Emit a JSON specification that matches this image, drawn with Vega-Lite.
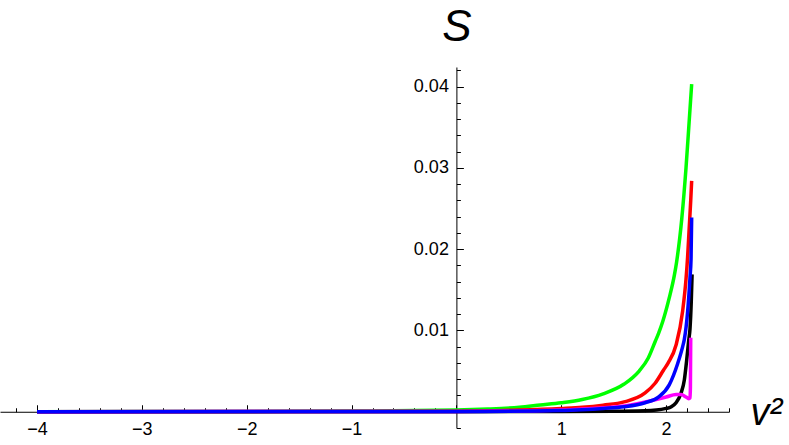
{
  "$schema": "https://vega.github.io/schema/vega-lite/v6.json",
  "width": 729,
  "height": 361,
  "autosize": {"type": "none"},
  "padding": {"left": 0, "top": 67, "right": 60, "bottom": 17},
  "background": "white",
  "config": {"view": {"stroke": null}},
  "data": {"values": [
    {"s": "a", "x": -4, "y": 0}, {"s": "a", "x": -3, "y": 0.00001}, {"s": "a", "x": -2, "y": 0.00003}, {"s": "a", "x": -1, "y": 0.00008}, {"s": "a", "x": 0, "y": 0.0002}, {"s": "a", "x": 0.3, "y": 0.00032}, {"s": "a", "x": 0.6, "y": 0.00054}, {"s": "a", "x": 0.8, "y": 0.00082}, {"s": "a", "x": 1.0, "y": 0.0011}, {"s": "a", "x": 1.2, "y": 0.0015}, {"s": "a", "x": 1.4, "y": 0.0022}, {"s": "a", "x": 1.6, "y": 0.0034}, {"s": "a", "x": 1.743, "y": 0.005}, {"s": "a", "x": 1.83, "y": 0.0066}, {"s": "a", "x": 1.895, "y": 0.0086}, {"s": "a", "x": 1.93, "y": 0.0097}, {"s": "a", "x": 1.968, "y": 0.0111}, {"s": "a", "x": 2.03, "y": 0.014}, {"s": "a", "x": 2.079, "y": 0.0168}, {"s": "a", "x": 2.1, "y": 0.0184}, {"s": "a", "x": 2.15, "y": 0.0238}, {"s": "a", "x": 2.19, "y": 0.0300}, {"s": "a", "x": 2.22, "y": 0.0357}, {"s": "a", "x": 2.244, "y": 0.0403},
    {"s": "b", "x": -4, "y": 0}, {"s": "b", "x": -2, "y": 0.00001}, {"s": "b", "x": 0, "y": 0.00005}, {"s": "b", "x": 0.6, "y": 0.0002}, {"s": "b", "x": 1.0, "y": 0.0004}, {"s": "b", "x": 1.2, "y": 0.00054}, {"s": "b", "x": 1.4, "y": 0.0008}, {"s": "b", "x": 1.6, "y": 0.0012}, {"s": "b", "x": 1.8, "y": 0.0023}, {"s": "b", "x": 1.895, "y": 0.0035}, {"s": "b", "x": 1.975, "y": 0.0051}, {"s": "b", "x": 2.02, "y": 0.006}, {"s": "b", "x": 2.095, "y": 0.0082}, {"s": "b", "x": 2.158, "y": 0.0124}, {"s": "b", "x": 2.19, "y": 0.0163}, {"s": "b", "x": 2.205, "y": 0.019}, {"s": "b", "x": 2.22, "y": 0.0225}, {"s": "b", "x": 2.235, "y": 0.026}, {"s": "b", "x": 2.244, "y": 0.0284},
    {"s": "c", "x": -4, "y": 0}, {"s": "c", "x": 0, "y": 0}, {"s": "c", "x": 1.5, "y": 0.00004}, {"s": "c", "x": 1.8, "y": 0.0001}, {"s": "c", "x": 2.0, "y": 0.0004}, {"s": "c", "x": 2.05, "y": 0.0006}, {"s": "c", "x": 2.095, "y": 0.0011}, {"s": "c", "x": 2.143, "y": 0.0023}, {"s": "c", "x": 2.174, "y": 0.0039}, {"s": "c", "x": 2.196, "y": 0.0063}, {"s": "c", "x": 2.216, "y": 0.0088}, {"s": "c", "x": 2.228, "y": 0.0102}, {"s": "c", "x": 2.24, "y": 0.0135}, {"s": "c", "x": 2.248, "y": 0.0169},
    {"s": "d", "x": -4, "y": 0}, {"s": "d", "x": 0, "y": 0.00002}, {"s": "d", "x": 1.0, "y": 0.0002}, {"s": "d", "x": 1.3, "y": 0.0004}, {"s": "d", "x": 1.6, "y": 0.0007}, {"s": "d", "x": 1.8, "y": 0.0012}, {"s": "d", "x": 2.0, "y": 0.0018}, {"s": "d", "x": 2.095, "y": 0.0021}, {"s": "d", "x": 2.143, "y": 0.0021}, {"s": "d", "x": 2.19, "y": 0.0018}, {"s": "d", "x": 2.216, "y": 0.0016}, {"s": "d", "x": 2.228, "y": 0.0017}, {"s": "d", "x": 2.232, "y": 0.003}, {"s": "d", "x": 2.235, "y": 0.0091},
    {"s": "e", "x": -4, "y": 0}, {"s": "e", "x": 0, "y": 0.00002}, {"s": "e", "x": 1.0, "y": 0.00015}, {"s": "e", "x": 1.2, "y": 0.00025}, {"s": "e", "x": 1.4, "y": 0.0004}, {"s": "e", "x": 1.6, "y": 0.0006}, {"s": "e", "x": 1.8, "y": 0.0011}, {"s": "e", "x": 1.927, "y": 0.0018}, {"s": "e", "x": 2.03, "y": 0.0033}, {"s": "e", "x": 2.11, "y": 0.0059}, {"s": "e", "x": 2.158, "y": 0.008}, {"s": "e", "x": 2.174, "y": 0.0089}, {"s": "e", "x": 2.206, "y": 0.0124}, {"s": "e", "x": 2.228, "y": 0.0165}, {"s": "e", "x": 2.238, "y": 0.0188}, {"s": "e", "x": 2.244, "y": 0.0239}
  ]},
  "mark": {"type": "line", "strokeWidth": 3.5, "interpolate": "monotone"},
  "encoding": {
    "x": {
      "field": "x", "type": "quantitative",
      "scale": {"domain": [-4.353, 2.6], "nice": false, "zero": false},
      "axis": {
        "orient": "bottom", "offset": -16.25,
        "values": [-4.2, -4, -3.8, -3.6, -3.4, -3.2, -3, -2.8, -2.6, -2.4, -2.2, -2, -1.8, -1.6, -1.4, -1.2, -1, -0.8, -0.6, -0.4, -0.2, 0, 0.2, 0.4, 0.6, 0.8, 1, 1.2, 1.4, 1.6, 1.8, 2, 2.2, 2.4, 2.6],
        "grid": false,
        "domainColor": "black", "domainWidth": 1,
        "tickColor": "black", "tickWidth": 1,
        "tickSize": {"condition": {"test": "abs(datum.value - round(datum.value)) < 0.001", "value": -7}, "value": -4},
        "labelExpr": "abs(datum.value - round(datum.value)) < 0.001 && abs(datum.value) > 0.001 ? format(round(datum.value), 'd') : ''",
        "labelFont": "Liberation Sans", "labelFontSize": 18, "labelColor": "black",
        "labelPadding": 16, "labelOverlap": false, "labelFlush": false, "labelBound": false,
        "title": "v²", "titleFont": "Liberation Sans", "titleFontSize": 38, "titleFontStyle": "italic", "titleFontWeight": "normal",
        "titleColor": "black", "titleAngle": 0, "titleAlign": "left", "titleBaseline": "alphabetic",
        "titleX": 750, "titleY": 13
      }
    },
    "y": {
      "field": "y", "type": "quantitative",
      "scale": {"domain": [-0.00201, 0.04242], "nice": false, "zero": false},
      "axis": {
        "orient": "left", "offset": -456.4,
        "values": [-0.002, 0, 0.002, 0.004, 0.006, 0.008, 0.01, 0.012, 0.014, 0.016, 0.018, 0.02, 0.022, 0.024, 0.026, 0.028, 0.03, 0.032, 0.034, 0.036, 0.038, 0.04, 0.042],
        "grid": false,
        "domainColor": "black", "domainWidth": 1,
        "tickColor": "black", "tickWidth": 1,
        "tickSize": {"condition": {"test": "abs(datum.value * 100 - round(datum.value * 100)) < 0.001", "value": -7}, "value": -4},
        "labelExpr": "abs(datum.value * 100 - round(datum.value * 100)) < 0.001 && datum.value > 0.001 ? format(datum.value, '.2f') : ''",
        "labelFont": "Liberation Sans", "labelFontSize": 18, "labelColor": "black",
        "labelPadding": 15, "labelOverlap": false, "labelFlush": false, "labelBound": false,
        "title": "S", "titleFont": "Liberation Sans", "titleFontSize": 44, "titleFontStyle": "italic", "titleFontWeight": "normal",
        "titleColor": "black", "titleAngle": 0, "titleAlign": "center", "titleBaseline": "middle",
        "titleX": 0, "titleY": -40
      }
    },
    "color": {
      "field": "s", "type": "nominal",
      "scale": {"domain": ["a", "b", "c", "d", "e"], "range": ["#00ff00", "#ff0000", "#000000", "#ff00ff", "#0000ff"]},
      "legend": null
    }
  }
}
